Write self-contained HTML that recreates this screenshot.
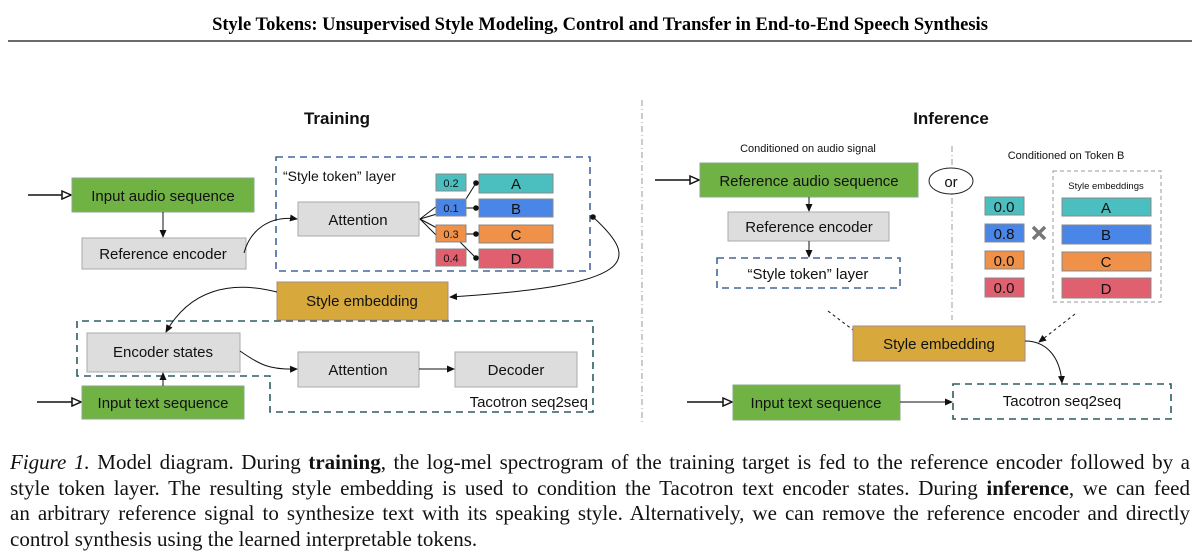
<!DOCTYPE html>
<html><head><meta charset="utf-8"><style>
body{margin:0;background:#fff;width:1200px;height:557px;overflow:hidden;position:relative}
svg{position:absolute;left:0;top:0}
.cap{position:absolute;left:10px;top:450px;width:1180px;font-family:"Liberation Serif",serif;font-size:21px;line-height:25.5px;color:#111}
.cap div{text-align:justify;text-align-last:justify;white-space:nowrap}
.cap div.l{text-align-last:left}
</style></head><body>
<svg width="1200" height="557" viewBox="0 0 1200 557">
<defs>
<marker id="a" markerWidth="8" markerHeight="8" refX="7" refY="4" orient="auto" markerUnits="userSpaceOnUse"><path d="M0,0.5 L8,4 L0,7.5z" fill="#111"/></marker>
<marker id="h" markerWidth="11" markerHeight="10" refX="10" refY="5" orient="auto" markerUnits="userSpaceOnUse"><path d="M1,1 L10,5 L1,9z" fill="#fff" stroke="#111" stroke-width="1.5"/></marker>
</defs>
<text x="600" y="30" text-anchor="middle" font-family="Liberation Serif,serif" font-weight="bold" font-size="18.5">Style Tokens: Unsupervised Style Modeling, Control and Transfer in End-to-End Speech Synthesis</text>
<line x1="8" y1="41" x2="1192" y2="41" stroke="#111" stroke-width="1.2"/>
<g font-family="Liberation Sans,sans-serif" fill="#111">
<text x="337" y="124" text-anchor="middle" font-weight="bold" font-size="17">Training</text>
<text x="951" y="124" text-anchor="middle" font-weight="bold" font-size="17">Inference</text>
</g>
<line x1="642" y1="100" x2="642" y2="425" stroke="#999" stroke-width="1" stroke-dasharray="6,3,1,3"/>
<line x1="952" y1="146" x2="952" y2="320" stroke="#999" stroke-width="1" stroke-dasharray="6,3,1,3"/>
<g font-family="Liberation Sans,sans-serif" font-size="15" fill="#111" text-anchor="middle">
<rect x="276" y="157" width="314" height="114" fill="none" stroke="#44669a" stroke-width="1.6" stroke-dasharray="7,5"/>
<path d="M77,376 V321 H593 V412 H270 V376 Z" fill="none" stroke="#2c5f62" stroke-width="1.6" stroke-dasharray="7,5"/>
<line x1="28" y1="195" x2="71" y2="195" stroke="#111" stroke-width="1.5" marker-end="url(#h)"/>
<line x1="37" y1="402" x2="81" y2="402" stroke="#111" stroke-width="1.5" marker-end="url(#h)"/>
<rect x="72" y="178" width="182" height="34" fill="#70b244" stroke="#8a8"/>
<text x="163" y="201">Input audio sequence</text>
<rect x="82" y="238" width="164" height="31" fill="#ddd" stroke="#aaa"/>
<text x="163" y="259">Reference encoder</text>
<line x1="163" y1="212" x2="163" y2="237" stroke="#111" marker-end="url(#a)"/>
<text x="283" y="181" text-anchor="start" font-size="14">“Style token” layer</text>
<rect x="298" y="202" width="121" height="34" fill="#ddd" stroke="#aaa"/>
<text x="358" y="225">Attention</text>
<path d="M244,253 C250,230 270,215 297,219" fill="none" stroke="#111" marker-end="url(#a)"/>
<g stroke="#111" stroke-width="1" fill="none">
<path d="M420,219 L437,206"/><path d="M420,219 L437,214"/><path d="M420,219 L437,228"/><path d="M420,219 L437,236"/>
<path d="M466,199 L476,183"/><path d="M466,208 L476,208"/><path d="M466,234 L476,234"/><path d="M460,242 L476,258"/>
</g>
<g font-size="11">
<rect x="436" y="174" width="30" height="17" fill="#4bbfbf" stroke="#888"/><text x="451" y="187">0.2</text>
<rect x="436" y="199" width="30" height="17" fill="#4a86e8" stroke="#888"/><text x="451" y="212">0.1</text>
<rect x="436" y="225" width="30" height="17" fill="#f0914a" stroke="#888"/><text x="451" y="238">0.3</text>
<rect x="436" y="249" width="30" height="17" fill="#e06070" stroke="#888"/><text x="451" y="262">0.4</text>
</g>
<rect x="479" y="174" width="74" height="19" fill="#4bbfbf" stroke="#888"/><text x="516" y="189">A</text>
<rect x="479" y="199" width="74" height="18" fill="#4a86e8" stroke="#888"/><text x="516" y="214">B</text>
<rect x="479" y="225" width="74" height="18" fill="#f0914a" stroke="#888"/><text x="516" y="240">C</text>
<rect x="479" y="249" width="74" height="19" fill="#e06070" stroke="#888"/><text x="516" y="264">D</text>
<g fill="#111"><circle cx="476" cy="183" r="2.8"/><circle cx="476" cy="208" r="2.8"/><circle cx="476" cy="234" r="2.8"/><circle cx="476" cy="258" r="2.8"/><circle cx="593" cy="217" r="2.8"/></g>
<rect x="277" y="282" width="171" height="38" fill="#d7a83c" stroke="#a88"/>
<text x="362" y="306">Style embedding</text>
<path d="M593,217 C640,260 640,285 450,297" fill="none" stroke="#111" marker-end="url(#a)"/>
<path d="M277,292 C230,280 190,290 166,332" fill="none" stroke="#111" marker-end="url(#a)"/>
<rect x="87" y="333" width="153" height="39" fill="#ddd" stroke="#aaa"/>
<text x="163" y="357">Encoder states</text>
<rect x="82" y="386" width="162" height="33" fill="#70b244" stroke="#8a8"/>
<text x="163" y="408">Input text sequence</text>
<line x1="163" y1="386" x2="163" y2="373" stroke="#111" marker-end="url(#a)"/>
<rect x="298" y="352" width="121" height="35" fill="#ddd" stroke="#aaa"/>
<text x="358" y="375">Attention</text>
<rect x="455" y="352" width="122" height="35" fill="#ddd" stroke="#aaa"/>
<text x="516" y="375">Decoder</text>
<path d="M240,351 C260,365 270,370 297,369" fill="none" stroke="#111" marker-end="url(#a)"/>
<line x1="419" y1="369" x2="454" y2="369" stroke="#111" marker-end="url(#a)"/>
<text x="588" y="407" text-anchor="end">Tacotron seq2seq</text>
<text x="808" y="152" font-size="11">Conditioned on audio signal</text>
<text x="1066" y="159" font-size="11">Conditioned on Token B</text>
<line x1="655" y1="180" x2="699" y2="180" stroke="#111" stroke-width="1.5" marker-end="url(#h)"/>
<rect x="700" y="163" width="218" height="34" fill="#70b244" stroke="#8a8"/>
<text x="809" y="186">Reference audio sequence</text>
<line x1="809" y1="197" x2="809" y2="211" stroke="#111" marker-end="url(#a)"/>
<rect x="728" y="212" width="161" height="29" fill="#ddd" stroke="#aaa"/>
<text x="809" y="232">Reference encoder</text>
<line x1="809" y1="241" x2="809" y2="257" stroke="#111" marker-end="url(#a)"/>
<rect x="717" y="258" width="183" height="30" fill="#fff" stroke="#44669a" stroke-width="1.6" stroke-dasharray="7,5"/>
<text x="808" y="279">“Style token” layer</text>
<ellipse cx="951" cy="181" rx="22" ry="13" fill="#fff" stroke="#222"/>
<text x="951" y="187">or</text>
<rect x="1053" y="171" width="108" height="131" fill="none" stroke="#999" stroke-dasharray="4,3"/>
<text x="1106" y="189" font-size="9.5">Style embeddings</text>
<rect x="985" y="197" width="39" height="18" fill="#4bbfbf" stroke="#888"/><text x="1004" y="212">0.0</text>
<rect x="985" y="224" width="39" height="18" fill="#4a86e8" stroke="#888"/><text x="1004" y="239">0.8</text>
<rect x="985" y="251" width="39" height="18" fill="#f0914a" stroke="#888"/><text x="1004" y="266">0.0</text>
<rect x="985" y="278" width="39" height="19" fill="#e06070" stroke="#888"/><text x="1004" y="293">0.0</text>
<path d="M1033,227 L1045,239 M1045,227 L1033,239" stroke="#777" stroke-width="3.5"/>
<rect x="1062" y="198" width="89" height="18" fill="#4bbfbf" stroke="#888"/><text x="1106" y="213">A</text>
<rect x="1062" y="225" width="89" height="19" fill="#4a86e8" stroke="#888"/><text x="1106" y="240">B</text>
<rect x="1062" y="252" width="89" height="19" fill="#f0914a" stroke="#888"/><text x="1106" y="267">C</text>
<rect x="1062" y="278" width="89" height="20" fill="#e06070" stroke="#888"/><text x="1106" y="294">D</text>
<path d="M828,311 L861,336" stroke="#111" stroke-dasharray="3,3" marker-end="url(#a)"/>
<path d="M1075,314 L1039,342" stroke="#111" stroke-dasharray="3,3" marker-end="url(#a)"/>
<rect x="853" y="326" width="172" height="35" fill="#d7a83c" stroke="#a88"/>
<text x="939" y="349">Style embedding</text>
<path d="M1025,341 C1045,341 1060,355 1062,383" fill="none" stroke="#111" marker-end="url(#a)"/>
<line x1="687" y1="402" x2="732" y2="402" stroke="#111" stroke-width="1.5" marker-end="url(#h)"/>
<rect x="733" y="385" width="167" height="35" fill="#70b244" stroke="#8a8"/>
<text x="816" y="408">Input text sequence</text>
<line x1="900" y1="402" x2="952" y2="402" stroke="#111" marker-end="url(#a)"/>
<rect x="953" y="384" width="218" height="35" fill="none" stroke="#2c5f62" stroke-width="1.6" stroke-dasharray="7,5"/>
<text x="1062" y="406">Tacotron seq2seq</text>
</g>
</svg>
<div class="cap">
<div><i>Figure 1.</i> Model diagram. During <b>training</b>, the log-mel spectrogram of the training target is fed to the reference encoder followed by a</div>
<div>style token layer. The resulting style embedding is used to condition the Tacotron text encoder states. During <b>inference</b>, we can feed</div>
<div>an arbitrary reference signal to synthesize text with its speaking style. Alternatively, we can remove the reference encoder and directly</div>
<div class="l">control synthesis using the learned interpretable tokens.</div>
</div>
</body></html>
